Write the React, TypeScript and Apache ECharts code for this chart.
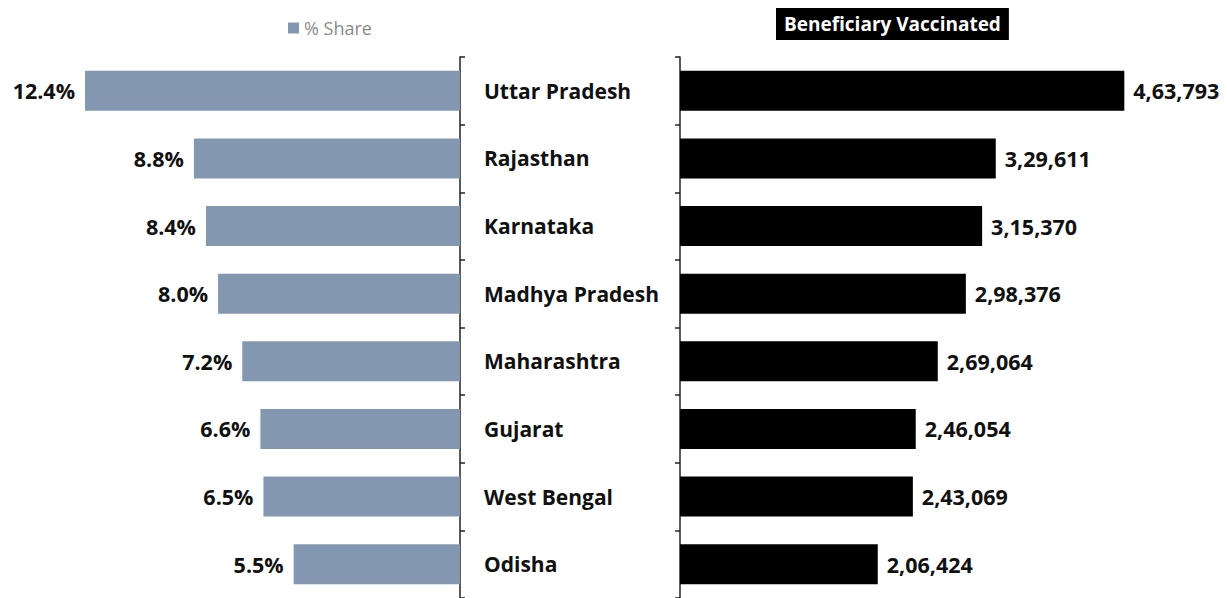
import React, { useEffect, useRef } from "react";
import * as echarts from "echarts";

const states = ["Uttar Pradesh", "Rajasthan", "Karnataka", "Madhya Pradesh", "Maharashtra", "Gujarat", "West Bengal", "Odisha"];
const sharePct = [12.4, 8.8, 8.4, 8.0, 7.2, 6.6, 6.5, 5.5];
const vaccinated = [463793, 329611, 315370, 298376, 269064, 246054, 243069, 206424];

const fmtIndian = (n: number) => {
  const s = String(Math.round(n));
  if (s.length <= 3) return s;
  const last3 = s.slice(-3);
  const rest = s.slice(0, -3).replace(/\B(?=(\d{2})+(?!\d))/g, ",");
  return rest + "," + last3;
};

const FONT = "'Open Sans', sans-serif";

export default function App() {
  const ref = useRef<HTMLDivElement>(null);
  useEffect(() => {
    if (!ref.current) return;
    const chart = echarts.init(ref.current, undefined, { renderer: "svg" });
    chart.setOption({
      animation: false,
      backgroundColor: "#fff",
      textStyle: { fontFamily: FONT },
      legend: [
        {
          data: ["% Share"],
          left: 283,
          top: 14,
          icon: "rect",
          itemWidth: 11,
          itemHeight: 11,
          itemGap: 4,
          textStyle: { color: "#8a8a8a", fontSize: 18, fontFamily: FONT },
        },
        {
          data: [{ name: "Beneficiary Vaccinated", icon: "none" }],
          left: 766,
          top: 3,
          itemWidth: 0,
          itemGap: 0,
          textStyle: {
            color: "#fff",
            fontSize: 19,
            fontWeight: "bold",
            fontFamily: FONT,
            backgroundColor: "#000",
            padding: [7, 8, 6, 8],
          },
        },
      ],
      grid: [
        { left: 6.4, width: 453.6, top: 57, bottom: -3, containLabel: false },
        { left: 680, right: 68, top: 57, bottom: -3, containLabel: false },
      ],
      xAxis: [
        { gridIndex: 0, type: "value", min: 0, max: 15, inverse: true, show: false },
        { gridIndex: 1, type: "value", min: 0, max: 500000, show: false },
      ],
      yAxis: [
        {
          gridIndex: 0,
          type: "category",
          data: states,
          inverse: true,
          position: "right",
          axisLine: { show: true, lineStyle: { color: "#222", width: 1.5 } },
          axisTick: { show: true, interval: 0, length: 5, lineStyle: { color: "#222", width: 1.5 } },
          axisLabel: {
            margin: 24,
            align: "left",
            color: "#111",
            fontSize: 21,
            fontWeight: "bold",
            fontFamily: FONT,
          },
        },
        {
          gridIndex: 1,
          type: "category",
          data: states,
          inverse: true,
          position: "left",
          axisLine: { show: true, lineStyle: { color: "#222", width: 1.5 } },
          axisTick: { show: true, interval: 0, length: 5, lineStyle: { color: "#222", width: 1.5 } },
          axisLabel: { show: false },
        },
      ],
      series: [
        {
          name: "% Share",
          type: "bar",
          xAxisIndex: 0,
          yAxisIndex: 0,
          data: sharePct,
          barWidth: 40,
          itemStyle: { color: "#8497b0" },
          label: {
            show: true,
            position: "left",
            distance: 10,
            color: "#111",
            fontSize: 21.5,
            fontWeight: "bold",
            fontFamily: FONT,
            formatter: (p: any) => p.value.toFixed(1) + "%",
          },
        },
        {
          name: "Beneficiary Vaccinated",
          type: "bar",
          xAxisIndex: 1,
          yAxisIndex: 1,
          data: vaccinated,
          barWidth: 40,
          itemStyle: { color: "#000" },
          label: {
            show: true,
            position: "right",
            distance: 9,
            color: "#111",
            fontSize: 21.5,
            fontWeight: "bold",
            fontFamily: FONT,
            formatter: (p: any) => fmtIndian(p.value),
          },
        },
      ],
    });
    return () => chart.dispose();
  }, []);
  return <div ref={ref} style={{ width: 1227, height: 598, position: "absolute", left: 0, top: 0 }} />;
}
